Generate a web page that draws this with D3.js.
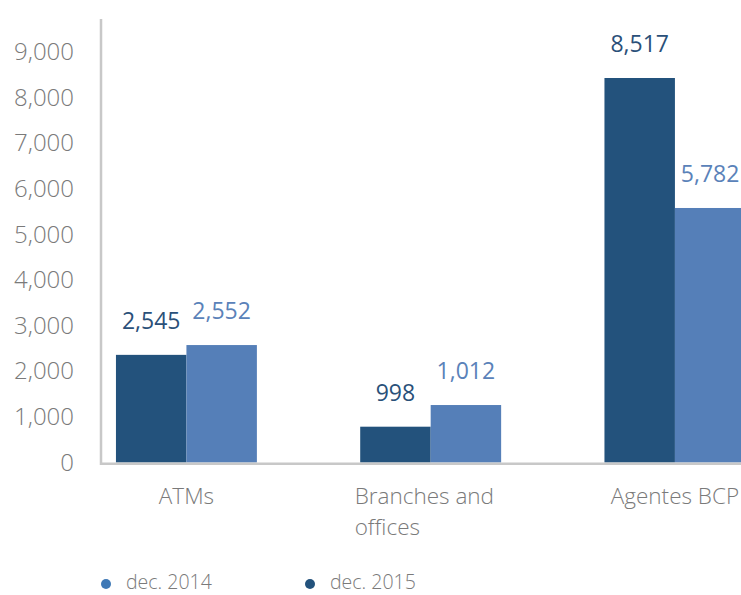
<!DOCTYPE html>
<html>
<head>
<meta charset="utf-8">
<script src="https://cdn.jsdelivr.net/npm/d3@7"></script>
<style>
  html, body { margin: 0; padding: 0; background: #fff; }
  svg { display: block; font-family: "Open Sans", sans-serif; font-weight: 300; }
</style>
</head>
<body>
<svg id="chart" width="741" height="595"></svg>
<script>
// ---- data ----
const categories = ["ATMs", "Branches and offices", "Agentes BCP"];
const categoryLines = [["ATMs"], ["Branches and", "offices"], ["Agentes BCP"]];
const seriesNames = ["dec. 2015", "dec. 2014"];           // bar order: dark first, light second
const barsDec2015 = [2360, 785, 8430];                    // bar heights as drawn
const barsDec2014 = [2575, 1260, 5580];
const labelsDec2015 = ["2,545", "998", "8,517"];           // printed value labels
const labelsDec2014 = ["2,552", "1,012", "5,782"];
const yTicks = [0, 1000, 2000, 3000, 4000, 5000, 6000, 7000, 8000, 9000];
const legendNames = ["dec. 2014", "dec. 2015"];

// ---- styles ----
const darkBlue = "#23527c";
const lightBlue = "#557fb8";
const legendColors = ["#3f79b6", "#23527c"];
const axisGray = "#c8c8c8";
const textGray = "#7a7a7a";

const svg = d3.select("#chart");

const y = d3.scaleLinear().domain([0, 9000]).range([462.5, 52]);
const x0 = d3.scaleBand().domain(categories).range([64.3, 797.05])
  .paddingInner(0.423).paddingOuter(0.2115);
const x1 = d3.scaleBand().domain(seriesNames).range([0, x0.bandwidth()]);

const rows = categories.map((c, i) => ({
  cat: c,
  vals: [
    { s: seriesNames[0], v: barsDec2015[i], label: labelsDec2015[i], fill: darkBlue, tc: "#2a5079" },
    { s: seriesNames[1], v: barsDec2014[i], label: labelsDec2014[i], fill: lightBlue, tc: "#5a82b9" }
  ]
}));

// bars
const g = svg.append("g");
const groups = g.selectAll("g.grp").data(rows).join("g")
  .attr("transform", d => `translate(${x0(d.cat)},0)`);
groups.selectAll("rect").data(d => d.vals).join("rect")
  .attr("x", d => x1(d.s))
  .attr("width", x1.bandwidth())
  .attr("y", d => y(d.v))
  .attr("height", d => y(0) - y(d.v))
  .attr("fill", d => d.fill);
groups.selectAll("text").data(d => d.vals).join("text")
  .attr("x", d => x1(d.s) + x1.bandwidth() / 2)
  .attr("y", d => y(d.v) - 34)
  .attr("dy", "0.36em")
  .attr("text-anchor", "middle")
  .attr("font-size", 23)
  .attr("font-weight", 400)
  .attr("fill", d => d.tc)
  .text(d => d.label);

// axes
const yAxis = d3.axisLeft(y).tickValues(yTicks).tickSize(0).tickPadding(0)
  .tickFormat(d3.format(","));
const ya = svg.append("g").attr("transform", "translate(74,-1)").call(yAxis);
ya.select(".domain").remove();
ya.selectAll("text")
  .attr("font-family", "'Open Sans', sans-serif")
  .attr("font-weight", 300)
  .attr("font-size", 24)
  .attr("fill", textGray)
  .attr("dy", "0.36em");

svg.append("line")
  .attr("x1", 101).attr("x2", 101)
  .attr("y1", 19).attr("y2", y(0) + 2.5)
  .attr("stroke", axisGray).attr("stroke-width", 2.5);
svg.append("line")
  .attr("x1", 100).attr("x2", 741)
  .attr("y1", y(0) + 1.3).attr("y2", y(0) + 1.3)
  .attr("stroke", axisGray).attr("stroke-width", 2.5);

// category labels
const cl = svg.append("g");
categories.forEach((c, i) => {
  const lines = categoryLines[i];
  const cx = x0(c) + x0.bandwidth() / 2;
  if (lines.length > 1) {
    // left-aligned multi-line label, one text per line
    const left = cx - 76;
    lines.forEach((ln, j) => {
      cl.append("text")
        .attr("font-size", 22.5)
        .attr("fill", textGray)
        .attr("x", left).attr("y", 496 + j * 31).attr("dy", "0.36em").text(ln);
    });
  } else {
    cl.append("text")
      .attr("font-size", 22.5)
      .attr("fill", textGray)
      .attr("x", cx).attr("y", 496).attr("dy", "0.36em").attr("text-anchor", "middle").text(lines[0]);
  }
});

// legend
const legendX = d3.scalePoint().domain(legendNames).range([106, 310]);
const lg = svg.append("g").selectAll("g").data(legendNames).join("g")
  .attr("transform", d => `translate(${legendX(d)},582)`);
lg.append("circle").attr("r", 5).attr("cy", 2).attr("fill", (d, i) => legendColors[i]);
lg.append("text").attr("x", 20).attr("dy", "0.36em")
  .attr("font-size", 19.5).attr("fill", textGray).text(d => d);
</script>
</body>
</html>
